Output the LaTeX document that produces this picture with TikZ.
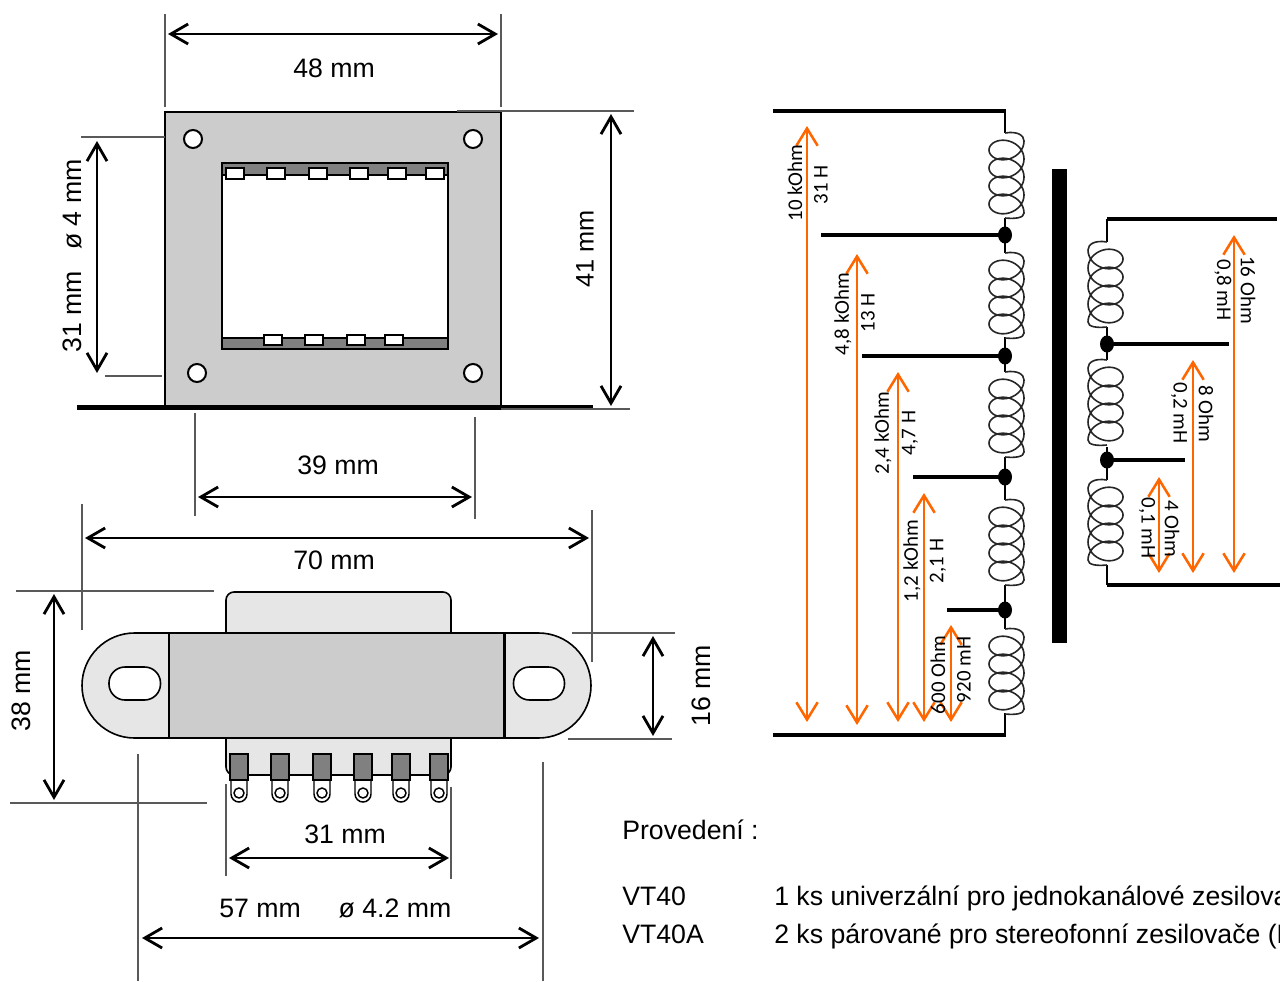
\documentclass[tikz,border=0pt]{standalone}
\usepackage{fontspec}
\setmainfont{Liberation Sans}
\newfontfamily\labelfont{Carlito}
\usetikzlibrary{arrows.meta}
\tikzset{
	dimline/.style={line width=2.1pt, {Straight Barb[length=13pt,width=15pt,line width=2.1pt]}-{Straight Barb[length=13pt,width=15pt,line width=2.1pt]}},
	extline/.style={line width=1pt, color=black!65},
	valuearrow/.style={line width=1.9pt, color=orangeline, {Straight Barb[length=13pt,width=16pt,line width=1.9pt]}-{Straight Barb[length=13pt,width=16pt,line width=1.9pt]}},
	wire/.style={line width=2.6pt},
	coilwire/.style={line width=1.2pt, color=black!85},
	dimtext/.style={font=\fontsize{20}{24}\selectfont, inner sep=0pt},
	valuetext/.style={font=\labelfont\fontsize{15.7}{18}\selectfont, inner sep=0pt},
	plaintext/.style={font=\fontsize{20}{24}\selectfont, inner sep=0pt, anchor=base west},
}
\definecolor{orangeline}{HTML}{FF6600}
\definecolor{plategray}{HTML}{CCCCCC}
\definecolor{tabgray}{HTML}{E6E6E6}
\definecolor{pingray}{HTML}{808080}
\newcommand{\coilpart}[3]{
	\begin{scope}[shift={(#1,#2)},xscale=#3]
		\draw[coilwire] (0,0) .. controls (12,-2) and (19,2) .. (19,8)
			-- plot[domain=0:1440,samples=145] ({1.5+17.5*cos(\x)},{8+\x/20+14*sin(\x)})
			.. controls (19,85) and (10,86) .. (0,85);
	\end{scope}
}
\begin{document}
\begin{tikzpicture}[x=0.75pt,y=-0.75pt]
	\useasboundingbox (0,0) rectangle (1280,981);

	%%%%% front view %%%%%
	\draw[line width=2.2pt, fill=plategray] (165,112) rectangle (501,406);
	\draw[line width=2.2pt, fill=white] (222,163) rectangle (448,349);
	\draw[line width=2.2pt, fill=pingray] (222,163) rectangle (448,175);
	\draw[line width=2.2pt, fill=pingray] (222,338) rectangle (448,349);
	\foreach \xx in {235,276,318,359,397,435} {
		\draw[line width=1.8pt, fill=white] (\xx-9,168) rectangle (\xx+9,179);
	}
	\foreach \xx in {273,314,356,394} {
		\draw[line width=1.8pt, fill=white] (\xx-9,335) rectangle (\xx+9,345);
	}
	\draw[line width=1.5pt, fill=white] (193,139) circle (9);
	\draw[line width=1.5pt, fill=white] (473,139) circle (9);
	\draw[line width=1.5pt, fill=white] (197,373) circle (9);
	\draw[line width=1.5pt, fill=white] (473,373) circle (9);
	\draw[line width=3.6pt] (77,407.5) -- (593,407.5);

	\draw[extline] (165,14) -- (165,107);
	\draw[extline] (501,14) -- (501,107);
	\draw[dimline] (168,34) -- (498,34);
	\node[dimtext] (width48) at (334,68) {48 mm};

	\draw[extline] (457,111) -- (634,111);
	\draw[extline] (501,409) -- (630,409);
	\draw[dimline] (611,114) -- (611,406);
	\node[dimtext, rotate=90, font=\fontsize{19}{24}\selectfont] (height41) at (585,249) {41 mm};

	\draw[extline] (81,137) -- (165,137);
	\draw[extline] (105,376) -- (162,376);
	\draw[dimline] (97,141) -- (97,373);
	\node[dimtext, rotate=90] (height31) at (72,256) {31 mm\hspace{0.8em}ø 4 mm};

	\draw[extline] (195,413) -- (195,516);
	\draw[extline] (475,417) -- (475,519);
	\draw[dimline] (198,497) -- (472,497);
	\node[dimtext] (width39) at (338,465) {39 mm};

	%%%%% side view %%%%%
	\draw[extline] (82,504) -- (82,630);
	\draw[extline] (592,510) -- (592,662);
	\draw[dimline] (85,538) -- (589,538);
	\node[dimtext] (width70) at (334,560) {70 mm};

	\draw[line width=1.2pt, fill=tabgray, rounded corners=6pt] (226,640) -- (226,592) -- (451,592) -- (451,640) -- cycle;
	\draw[line width=1.2pt, fill=tabgray, rounded corners=6pt] (226,730) -- (226,775) -- (451,775) -- (451,730) -- cycle;
	\draw[line width=1.2pt, fill=tabgray] (134.5,633) arc (-90:-270:52.5) -- (538.5,738) arc (90:-90:52.5) -- cycle;
	\draw[line width=2.2pt, fill=plategray] (169,633) rectangle (504.5,738);
	\draw[line width=1.2pt, fill=white, rounded corners=12pt] (109,667) rectangle (160.5,700);
	\draw[line width=1.2pt, fill=white, rounded corners=12pt] (513.5,667) rectangle (564.5,700);
	\foreach \xx in {239,280,322,363,401,439} {
		\draw[line width=1.1pt, fill=white] (\xx-8,775) -- (\xx-8,794) arc (180:0:8) -- (\xx+8,775) -- cycle;
		\draw[line width=1.1pt, fill=white] (\xx,793) circle (5);
		\draw[line width=2.2pt, fill=pingray] (\xx-9,754) rectangle (\xx+9,780);
	}

	\draw[extline] (16,591) -- (214,591);
	\draw[extline] (10,803) -- (207,803);
	\draw[dimline] (54,594) -- (54,800);
	\node[dimtext, rotate=90] (height38) at (21,691) {38 mm};

	\draw[extline] (572,633) -- (675,633);
	\draw[extline] (568,739) -- (672,739);
	\draw[dimline] (653,636) -- (653,736);
	\node[dimtext, rotate=90] (height16) at (701,686) {16 mm};

	\draw[extline] (226,784) -- (226,876);
	\draw[extline] (451,787) -- (451,879);
	\draw[dimline] (229,858) -- (449,858);
	\node[dimtext] (width31) at (345,834) {31 mm};

	\draw[extline] (138,754) -- (138,981);
	\draw[extline] (543,762) -- (543,981);
	\draw[dimline] (142,938) -- (539,938);
	\node[dimtext] (width57) at (260,908) {57 mm};
	\node[dimtext] (hole42) at (395,908) {ø 4.2 mm};

	%%%%% primary winding %%%%%
	\draw[wire] (773,111) -- (1006,111);
	\draw[wire] (773,735) -- (1006,735);
	\draw[line width=1.3pt] (1005,111) -- (1005,133);
	\draw[line width=1.3pt] (1005,218) -- (1005,253);
	\draw[line width=1.3pt] (1005,337) -- (1005,372);
	\draw[line width=1.3pt] (1005,457) -- (1005,500);
	\draw[line width=1.3pt] (1005,585) -- (1005,629);
	\draw[line width=1.3pt] (1005,713) -- (1005,735);
	\foreach \yy in {133,253,372,500,629} {
		\coilpart{1005}{\yy}{1}
	}
	\foreach \xx/\yy in {821/235,862/356,913/477,947/610} {
		\draw[wire] (\xx,\yy) -- (1005,\yy);
		\fill (1005,\yy) ellipse (7 and 8.5);
	}
	\fill (1052,169) rectangle (1067,643);

	%%%%% secondary winding %%%%%
	\draw[wire] (1107,219) -- (1277,219);
	\draw[wire] (1107,585) -- (1280,585);
	\draw[line width=1.3pt] (1107,219) -- (1107,242);
	\draw[line width=1.3pt] (1107,327) -- (1107,360);
	\draw[line width=1.3pt] (1107,447) -- (1107,480);
	\draw[line width=1.3pt] (1107,565) -- (1107,585);
	\foreach \yy in {242,360,480} {
		\coilpart{1107}{\yy}{-1}
	}
	\foreach \xx/\yy in {1229/344,1185/460} {
		\draw[wire] (1107,\yy) -- (\xx,\yy);
		\fill (1107,\yy) ellipse (7 and 8.5);
	}

	%%%%% orange values %%%%%
	\draw[valuearrow] (807,126) -- (807,722);
	\draw[valuearrow] (857,254) -- (857,725);
	\draw[valuearrow] (898,372) -- (898,722);
	\draw[valuearrow] (924,493) -- (924,722);
	\draw[valuearrow] (951,625) -- (951,722);
	\draw[valuearrow] (1234,235) -- (1234,573);
	\draw[valuearrow] (1193,360) -- (1193,573);
	\draw[valuearrow] (1159,477) -- (1159,573);

	\node[valuetext, rotate=90] (ohm10k) at (795,183) {10 kOhm};
	\node[valuetext, rotate=90] (henry31) at (821,185) {31 H};
	\node[valuetext, rotate=90] (ohm48) at (843,314) {4,8 kOhm};
	\node[valuetext, rotate=90] (henry13) at (868,313) {13 H};
	\node[valuetext, rotate=90] (ohm24) at (883,433) {2,4 kOhm};
	\node[valuetext, rotate=90] (henry47) at (910,433) {4,7 H};
	\node[valuetext, rotate=90] (ohm12) at (912,561) {1,2 kOhm};
	\node[valuetext, rotate=90] (henry21) at (938,561) {2,1 H};
	\node[valuetext, rotate=90] (ohm600) at (938,675) {600 Ohm};
	\node[valuetext, rotate=90] (mh920) at (964,670) {920 mH};

	\node[valuetext, rotate=-90] (ohm16) at (1248,290) {16 Ohm};
	\node[valuetext, rotate=-90] (mh08) at (1223,290) {0,8 mH};
	\node[valuetext, rotate=-90] (ohm8) at (1206,414) {8 Ohm};
	\node[valuetext, rotate=-90] (mh02) at (1179,413) {0,2 mH};
	\node[valuetext, rotate=-90] (ohm4) at (1172,529) {4 Ohm};
	\node[valuetext, rotate=-90] (mh01) at (1147,528) {0,1 mH};

	%%%%% notes %%%%%
	\node[plaintext] (notehead) at (622,839) {Provedení :};
	\node[plaintext] (typeone) at (622,905) {VT40};
	\node[plaintext] (typetwo) at (622,943) {VT40A};
	\node[plaintext] (noteone) at (774,905) {1 ks univerzální pro jednokanálové zesilova};
	\node[plaintext] (notetwo) at (774,943) {2 ks párované pro stereofonní zesilovače (L};
\end{tikzpicture}
\end{document}
